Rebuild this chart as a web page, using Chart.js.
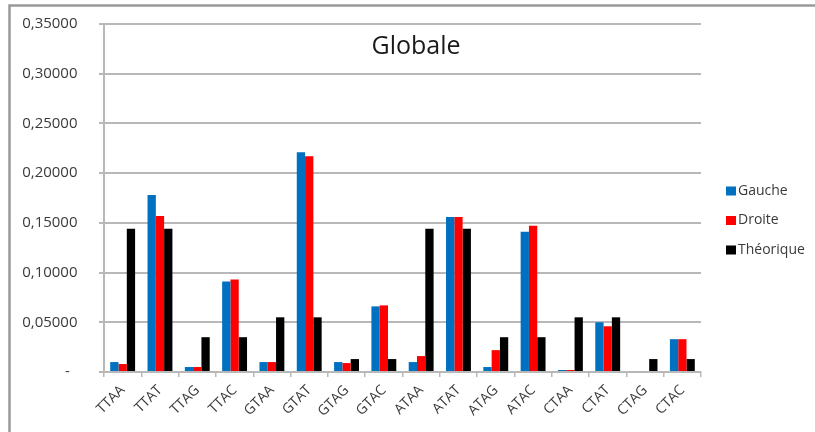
<!DOCTYPE html>
<html>
<head>
<meta charset="utf-8">
<script src="https://cdn.jsdelivr.net/npm/chart.js@4.4.1/dist/chart.umd.min.js"></script>
<style>
  html, body { margin: 0; padding: 0; background: #ffffff; }
  #wrap { position: relative; width: 815px; height: 432px; }
</style>
</head>
<body>
<div id="wrap"><canvas id="chart" width="815" height="432"></canvas></div>
<script>
const categories = ["TTAA", "TTAT", "TTAG", "TTAC", "GTAA", "GTAT", "GTAG", "GTAC",
  "ATAA", "ATAT", "ATAG", "ATAC", "CTAA", "CTAT", "CTAG", "CTAC"];
const gauche = [0.010, 0.178, 0.005, 0.091, 0.010, 0.221, 0.010, 0.066,
  0.010, 0.156, 0.005, 0.141, 0.002, 0.050, 0, 0.033];
const droite = [0.008, 0.157, 0.005, 0.093, 0.010, 0.217, 0.009, 0.067,
  0.016, 0.156, 0.022, 0.147, 0.002, 0.046, 0, 0.033];
const theorique = [0.144, 0.144, 0.035, 0.035, 0.055, 0.055, 0.013, 0.013,
  0.144, 0.144, 0.035, 0.035, 0.055, 0.055, 0.013, 0.013];
const seriesNames = ["Gauche", "Droite", "Théorique"];
const chartTitle = "Globale";

const FONT = "\"Open Sans\", \"Liberation Sans\", sans-serif";
const TEXT_GREY = "#3a3a3a";
const GRID_GREY = "#b8b8b8";

// cadre gris (haut + gauche) comme la capture Excel
const framePlugin = {
  id: "frame",
  beforeDraw(chart) {
    const ctx = chart.ctx;
    ctx.save();
    ctx.strokeStyle = "#9a9a9a";
    ctx.lineWidth = 2.5;
    ctx.beginPath();
    ctx.moveTo(815, 5.5);
    ctx.lineTo(9.5, 5.5);
    ctx.lineTo(9.5, 432);
    ctx.stroke();
    ctx.restore();
  }
};

const titlePlugin = {
  id: "insideTitle",
  afterDraw(chart) {
    const ctx = chart.ctx;
    ctx.save();
    ctx.font = "25px " + FONT;
    ctx.fillStyle = "#1a1a1a";
    ctx.textAlign = "center";
    ctx.textBaseline = "middle";
    ctx.fillText(chartTitle, 416, 47);
    ctx.restore();
  }
};

const sideLegendPlugin = {
  id: "sideLegend",
  afterDraw(chart) {
    const ctx = chart.ctx;
    const x = chart.chartArea.right + 25;
    const yStart = 191;
    const step = 29.5;
    ctx.save();
    ctx.font = "14px " + FONT;
    ctx.textBaseline = "middle";
    ctx.textAlign = "left";
    chart.data.datasets.forEach((ds, i) => {
      const y = yStart + i * step;
      ctx.fillStyle = ds.backgroundColor;
      ctx.fillRect(x, y - 4.5, 10, 9);
      ctx.fillStyle = TEXT_GREY;
      ctx.fillText(ds.label, x + 12, y);
    });
    ctx.restore();
  }
};

// format Excel "comptabilité" : tiret pour zéro, virgule décimale
// (espaces de fin = retrait du texte par rapport à l'axe, sans gonfler le padding haut)
function yLabel(v) {
  if (Math.abs(v) < 1e-9) return "-       ";
  return v.toFixed(5).replace(".", ",") + "     ";
}

new Chart(document.getElementById("chart"), {
  type: "bar",
  data: {
    labels: categories,
    datasets: [
      { label: seriesNames[0], data: gauche, backgroundColor: "#0070c0" },
      { label: seriesNames[1], data: droite, backgroundColor: "#ff0000" },
      { label: seriesNames[2], data: theorique, backgroundColor: "#000000" }
    ]
  },
  options: {
    responsive: false,
    animation: false,
    events: [],
    layout: { padding: { top: 24, left: 10, right: 114, bottom: 0 } },
    datasets: {
      bar: { categoryPercentage: 0.667, barPercentage: 1, borderWidth: 0 }
    },
    plugins: {
      legend: { display: false },
      title: { display: false },
      tooltip: { enabled: false }
    },
    scales: {
      x: {
        afterFit: (s) => { s.height = 60; },
        grid: {
          drawOnChartArea: false,
          drawTicks: true,
          tickLength: 5,
          color: GRID_GREY,
          lineWidth: 1.5
        },
        border: { color: GRID_GREY, width: 2 },
        ticks: {
          color: TEXT_GREY,
          font: { family: FONT, size: 14 },
          maxRotation: 45,
          minRotation: 45,
          padding: 5,
          autoSkip: false
        }
      },
      y: {
        min: 0,
        max: 0.35,
        afterFit: (s) => { s.width = 94; },
        grid: {
          color: GRID_GREY,
          lineWidth: 2,
          tickLength: 5
        },
        border: { color: GRID_GREY, width: 2 },
        ticks: {
          stepSize: 0.05,
          color: TEXT_GREY,
          font: { family: FONT, size: 15 },
          padding: 2,
          callback: yLabel
        }
      }
    }
  },
  plugins: [framePlugin, titlePlugin, sideLegendPlugin]
});
</script>
</body>
</html>
